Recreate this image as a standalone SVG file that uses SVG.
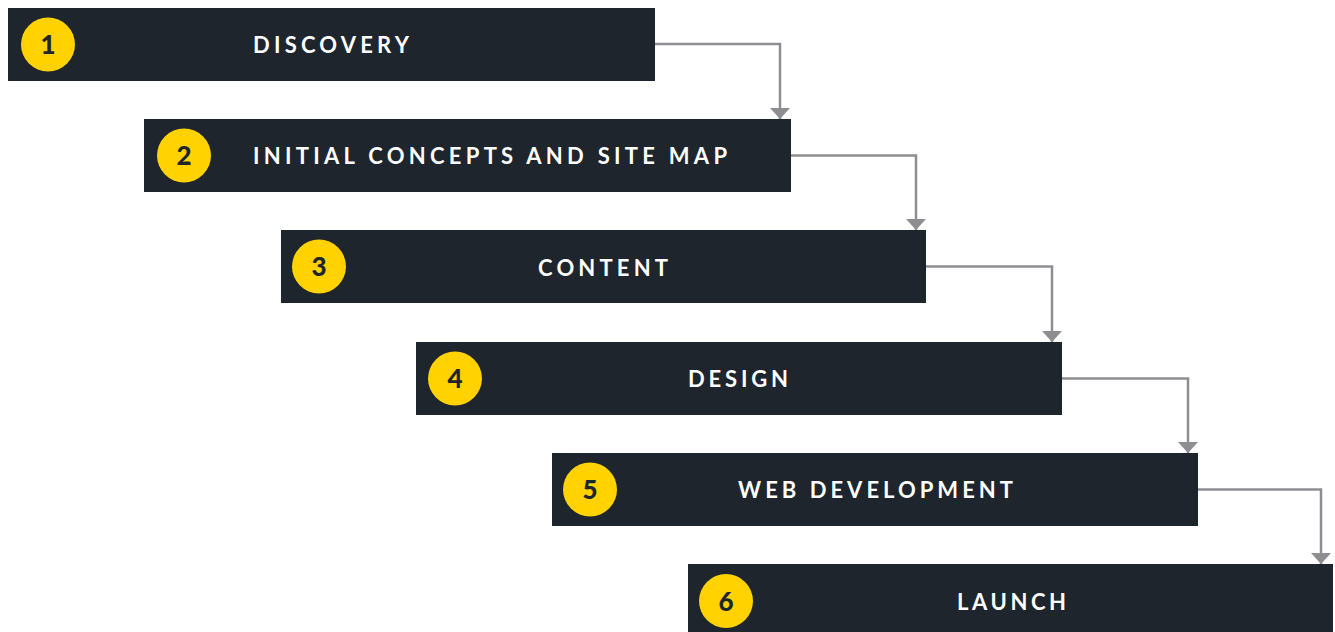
<svg xmlns="http://www.w3.org/2000/svg" width="1335" height="632" viewBox="0 0 1335 632">
  <defs>
    <style>
      .box { fill: #1e252d; }
      .badge { fill: #ffd200; }
      .num { font-family: "Lato", "Liberation Sans", sans-serif; font-weight: 900; font-size: 26px; fill: #1e252d; text-anchor: middle; }
      .lbl { font-family: "Lato", "Liberation Sans", sans-serif; font-weight: 700; font-size: 22px; fill: #ffffff; }
      .conn { fill: none; stroke: #8e8e92; stroke-width: 2.5; marker-end: url(#arr); }
    </style>
    <marker id="arr" viewBox="0 0 11 20" refX="11" refY="10" markerWidth="11" markerHeight="20" markerUnits="userSpaceOnUse" orient="auto">
      <path d="M0,0 L11,10 L0,20 Z" fill="#8e8e92"/>
    </marker>
  </defs>
  <rect width="1335" height="632" fill="#ffffff"/>

  <g id="connectors">
    <path class="conn" d="M655,44 H780 V119"/>
    <path class="conn" d="M791,155.5 H916 V230"/>
    <path class="conn" d="M926,266.5 H1052 V342"/>
    <path class="conn" d="M1062,378.5 H1188 V453"/>
    <path class="conn" d="M1196,489.5 H1321 V564"/>
  </g>

  <g id="node1">
    <rect class="box" x="8" y="8" width="647" height="73"/>
    <circle class="badge" cx="48" cy="44.5" r="27"/>
    <text class="num" x="48" y="54">1</text>
    <text class="lbl" x="253" y="53" textLength="156" lengthAdjust="spacing">DISCOVERY</text>
  </g>
  <g id="node2">
    <rect class="box" x="144" y="119" width="647" height="73"/>
    <circle class="badge" cx="184" cy="155.5" r="27"/>
    <text class="num" x="184" y="165">2</text>
    <text class="lbl" x="253" y="164" textLength="474" lengthAdjust="spacing">INITIAL CONCEPTS AND SITE MAP</text>
  </g>
  <g id="node3">
    <rect class="box" x="281" y="230" width="645" height="73"/>
    <circle class="badge" cx="319" cy="266.5" r="27"/>
    <text class="num" x="319" y="276">3</text>
    <text class="lbl" x="538" y="276" textLength="130" lengthAdjust="spacing">CONTENT</text>
  </g>
  <g id="node4">
    <rect class="box" x="416" y="342" width="646" height="73"/>
    <circle class="badge" cx="455" cy="378.5" r="27"/>
    <text class="num" x="455" y="388">4</text>
    <text class="lbl" x="688" y="387" textLength="100" lengthAdjust="spacing">DESIGN</text>
  </g>
  <g id="node5">
    <rect class="box" x="552" y="453" width="646" height="73"/>
    <circle class="badge" cx="590" cy="489.5" r="27"/>
    <text class="num" x="590" y="499">5</text>
    <text class="lbl" x="738" y="497.5" textLength="275" lengthAdjust="spacing">WEB DEVELOPMENT</text>
  </g>
  <g id="node6">
    <rect class="box" x="688" y="564" width="645" height="73"/>
    <circle class="badge" cx="726" cy="601" r="27"/>
    <text class="num" x="726" y="610.5">6</text>
    <text class="lbl" x="957" y="610" textLength="109" lengthAdjust="spacing">LAUNCH</text>
  </g>
</svg>
